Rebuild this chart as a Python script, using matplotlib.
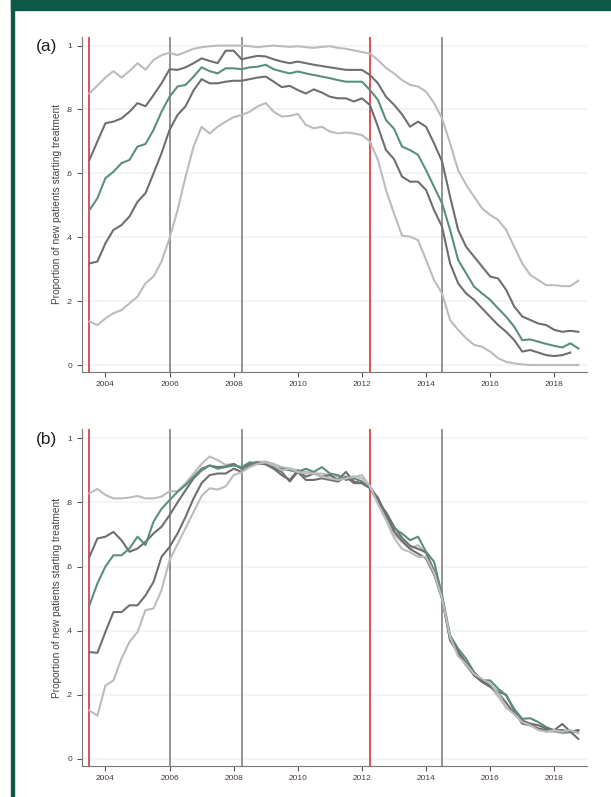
import numpy as np
import matplotlib
matplotlib.use("Agg")
import matplotlib.pyplot as plt
from matplotlib.patches import Rectangle

plt.rcParams['font.family'] = ['Liberation Sans', 'DejaVu Sans']

# quarterly time points 2003 Q3 .. 2018 Q4
years = np.arange(2003.5, 2018.76, 0.25)

# panel (a): median (green), inner band (dark grey), outer band (light grey)
a_light_up = [.85, .875, .90, .92, .90, .92, .945, .925, .955, .97, .978, .97, .98, .99,
              .995, .998, 1.0, 1.0, 1.0, 1.0, .998, .995, .998, 1.0, .998, .996, .998, .995,
              .993, .996, .998, .993, .99, .985, .98, .975, .955, .93, .913, .892, .877, .872,
              .856, .82, .772, .694, .61, .564, .527, .49, .47, .454, .423, .37, .318, .282,
              .266, .25, .25, .247, .247, .264]
a_dark_up = [.642, .70, .757, .762, .772, .793, .82, .81, .845, .882, .926, .924, .932, .945,
             .96, .952, .945, .984, .984, .957, .963, .968, .966, .957, .95, .945, .95, .945,
             .94, .936, .932, .928, .924, .924, .924, .908, .882, .84, .815, .785, .746, .762,
             .746, .694, .637, .527, .423, .37, .339, .308, .277, .271, .235, .183, .152, .141,
             .13, .125, .11, .104, .107, .104]
a_median = [.485, .522, .585, .605, .632, .642, .684, .692, .736, .793, .84, .872, .877, .903,
            .932, .92, .913, .929, .929, .926, .932, .934, .94, .926, .919, .913, .919, .913,
            .908, .903, .898, .892, .887, .887, .887, .861, .83, .767, .74, .684, .673, .658,
            .61, .558, .506, .423, .329, .287, .245, .224, .204, .177, .151, .12, .078, .08,
            .073, .066, .06, .055, .068, .052]
a_dark_low = [.318, .324, .381, .423, .438, .465, .511, .538, .60, .663, .736, .783, .81, .86,
              .895, .882, .882, .887, .89, .89, .895, .90, .903, .887, .87, .874, .861, .85,
              .863, .853, .84, .835, .835, .825, .835, .814, .746, .673, .645, .59, .574, .574,
              .548, .485, .433, .318, .256, .224, .204, .177, .151, .125, .104, .078, .042, .047,
              .039, .031, .028, .031, .039, np.nan]
a_light_low = [.136, .125, .146, .162, .172, .193, .214, .256, .277, .324, .397, .485, .59, .684,
               .746, .725, .746, .762, .776, .783, .793, .81, .82, .793, .778, .78, .786, .752,
               .741, .746, .731, .725, .728, .725, .72, .70, .642, .548, .475, .405, .402, .391,
               .329, .266, .224, .141, .11, .084, .063, .057, .042, .021, .01, .005, .002, 0,
               0, 0, 0, 0, 0, 0]

# panel (b): five scenarios starting from different levels
b_light_up = [.828, .842, .823, .8125, .8125, .815, .82, .8125, .8125, .818, .835, .835, .86, .89,
              .92, .943, .932, .917, .92, .906, .92, .927, .927, .92, .91, .906, .90, .896,
              .89, .89, .885, .88, .88, .88, .885, .85, .81, .75, .70, .677, .656, .667,
              .64, .59, .51, .37, .33, .29, .265, .24, .225, .195, .16, .14, .115, .11,
              .095, .085, .085, .08, .085, .085]
b_dark_up = [.63, .6875, .693, .708, .682, .646, .656, .677, .703, .724, .76, .80, .838, .875,
             .90, .915, .91, .912, .92, .905, .922, .925, .918, .905, .885, .87, .90, .88,
             .89, .88, .885, .87, .895, .865, .86, .845, .80, .77, .725, .69, .665, .655,
             .645, .585, .50, .37, .33, .295, .26, .24, .225, .21, .20, .15, .11, .105,
             .095, .09, .09, .109, .085, .0625]
b_median = [.479, .547, .60, .635, .635, .656, .693, .667, .74, .78, .807, .833, .854, .88,
            .905, .915, .905, .91, .915, .91, .925, .92, .925, .91, .905, .90, .895, .905,
            .895, .91, .89, .885, .87, .875, .865, .845, .815, .76, .719, .703, .682, .693,
            .646, .615, .51, .385, .344, .3125, .27, .245, .245, .219, .198, .156, .125, .127,
            .115, .099, .089, .083, .083, .089]
b_dark_low = [.333, .331, .396, .458, .458, .479, .479, .51, .552, .63, .661, .703, .755, .8125,
              .86, .885, .89, .89, .905, .895, .915, .92, .92, .91, .895, .865, .895, .87,
              .87, .875, .87, .865, .88, .86, .86, .845, .81, .765, .71, .68, .655, .64,
              .625, .575, .50, .375, .335, .30, .27, .245, .23, .205, .175, .14, .12, .11,
              .105, .095, .09, .09, .085, .09]
b_light_low = [.151, .135, .229, .245, .3125, .365, .396, .464, .469, .526, .62, .67, .72, .77,
               .82, .844, .84, .85, .885, .894, .91, .92, .925, .915, .90, .905, .895, .89,
               .89, .88, .875, .87, .875, .88, .875, .85, .795, .745, .69, .655, .645, .63,
               .63, .58, .50, .38, .32, .295, .265, .25, .235, .205, .16, .14, .115, .105,
               .09, .085, .09, .085, .09, .08]

# policy dates (vertical lines)
red_dates = [2003.5, 2012.25]
grey_dates = [2006.0, 2008.25, 2014.5]

yticks = [0, .2, .4, .6, .8, 1]
ytick_labels = ['0', '.2', '.4', '.6', '.8', '1']
xticks = [2004, 2006, 2008, 2010, 2012, 2014, 2016, 2018]

green = '#5b8f7c'
dark = '#6f6f6f'
light = '#bcbcbc'

fig = plt.figure(figsize=(6.11, 7.97), dpi=100)

# green frame: top band and thin left line
fig.patches.append(Rectangle((11 / 611, 1 - 10 / 797), 1, 10 / 797,
                             transform=fig.transFigure, color='#0f5a47', zorder=0))
fig.patches.append(Rectangle((11 / 611, 0), 2.5 / 611, 1,
                             transform=fig.transFigure, color='#0f5a47', zorder=0))

panels = [
    ('(a)', [0.1337, 0.5336, 0.8265, 0.4204],
     [a_light_up, a_dark_up, a_median, a_dark_low, a_light_low],
     [light, dark, green, dark, light]),
    ('(b)', [0.1337, 0.0393, 0.8265, 0.4221],
     [b_light_up, b_dark_up, b_median, b_dark_low, b_light_low],
     [light, dark, green, dark, light]),
]

for label, rect, series, colors in panels:
    ax = fig.add_axes(rect)
    for yt in yticks:
        ax.axhline(yt, color='#f0f5f5', linewidth=1.6, zorder=0)
    for d in red_dates:
        ax.axvline(d, color='#d9343a', linewidth=1.2, zorder=1)
    for d in grey_dates:
        ax.axvline(d, color='#808080', linewidth=1.2, zorder=1)
    for s, c in zip(series, colors):
        ax.plot(years, s, color=c, linewidth=1.5, zorder=2)

    ax.set_xlim(2003.26, 2019.01)
    ax.set_ylim(-0.021, 1.028)
    ax.set_yticks(yticks)
    ax.set_yticklabels(ytick_labels)
    ax.set_xticks(xticks)
    ax.tick_params(axis='both', labelsize=6, colors='#555555', labelcolor='#4a3c3c',
                   length=3.5, width=0.8)
    ax.spines['top'].set_visible(False)
    ax.spines['right'].set_visible(False)
    ax.spines['left'].set_color('#777777')
    ax.spines['bottom'].set_color('#777777')
    ax.set_ylabel('Proportion of new patients starting treatment', fontsize=7.3,
                  color='#444444', labelpad=2)
    ax.text(-0.069, 0.97, label, transform=ax.transAxes, fontsize=12.5,
            ha='center', va='center', color='#222222')

fig.savefig('out.png', dpi=100)
